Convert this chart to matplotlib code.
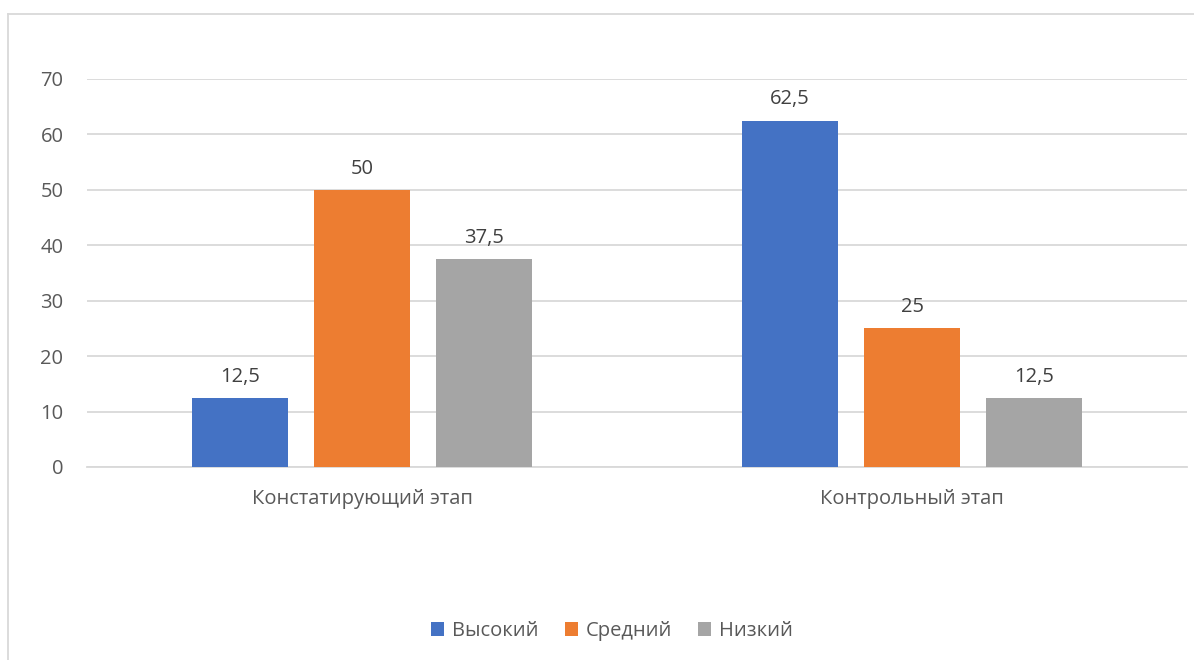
import matplotlib.pyplot as plt
import numpy as np
from matplotlib.lines import Line2D

plt.rcParams['font.family'] = ['Open Sans', 'DejaVu Sans']

categories = ['Констатирующий этап', 'Контрольный этап']
series = ['Высокий', 'Средний', 'Низкий']
vysokiy = [12.5, 62.5]
sredniy = [50, 25]
nizkiy = [37.5, 12.5]
colors = ['#4472C4', '#ED7D31', '#A5A5A5']
text_color = '#595959'

fig = plt.figure(figsize=(11.94, 6.6), dpi=100)
ax = fig.add_axes([87 / 1194, 1 - 467 / 660, 1100 / 1194, 388 / 660])

x = np.arange(len(categories))
width = 96 / 550
step = 122 / 550
for i, (name, vals) in enumerate(zip(series, [vysokiy, sredniy, nizkiy])):
    pos = x + (i - 1) * step
    bars = ax.bar(pos, vals, width, color=colors[i], label=name, zorder=3)
    for b, v in zip(bars, vals):
        lbl = ('%g' % v).replace('.', ',')
        ax.annotate(lbl, (b.get_x() + b.get_width() / 2, v), xytext=(0, 8),
                    textcoords='offset points', ha='center', va='bottom',
                    fontsize=14.5, color='#404040')

ax.set_xlim(-0.5, 1.5)
ax.set_ylim(0, 70)
ax.set_yticks(range(0, 71, 10))
ax.set_xticks(x)
ax.set_xticklabels(categories)
ax.tick_params(axis='both', length=0, labelsize=14.5, labelcolor=text_color)
ax.tick_params(axis='y', pad=17)
ax.tick_params(axis='x', pad=16)
ax.yaxis.grid(True, color='#D9D9D9', linewidth=1.3, zorder=0)
for s in ['top', 'right', 'left']:
    ax.spines[s].set_visible(False)
ax.spines['bottom'].set_color('#D9D9D9')
ax.spines['bottom'].set_linewidth(1.3)

fig.legend(loc='center', bbox_to_anchor=(612 / 1194, 1 - 631 / 660), ncol=3,
           frameon=False, fontsize=14.5, labelcolor=text_color,
           handlelength=0.65, handleheight=0.65, handletextpad=0.4, columnspacing=1.3)

# outer chart border (partly cropped)
fig.add_artist(Line2D([7.5 / 1194, 1.01], [1 - 13.5 / 660] * 2, color='#D9D9D9', lw=1.3))
fig.add_artist(Line2D([7.5 / 1194] * 2, [-0.01, 1 - 13.5 / 660], color='#D9D9D9', lw=1.3))

fig.savefig('out.png', dpi=100)
